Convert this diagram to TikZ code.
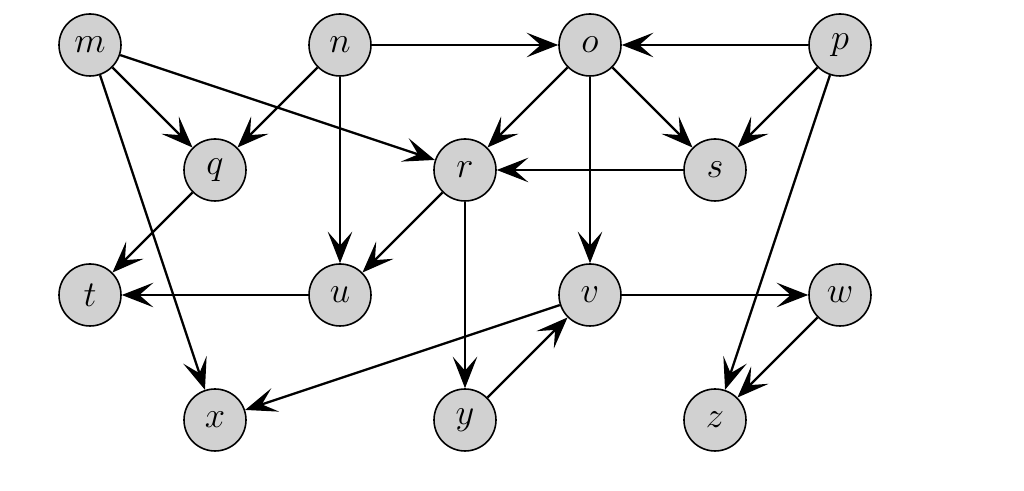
\documentclass[tikz,border=0pt]{standalone}
\usetikzlibrary{arrows.meta}
\tikzset{Graph/.style = {% styles for the graph picture
   vertex/.style = {circle, draw=black, line width=0.9pt, fill=black!18,
                    minimum size=1.24cm, inner sep=0pt,
                    font=\fontsize{21}{25}\selectfont},
    arrow/.style = {line width=1.3pt,
                    -{Stealth[length=18pt, width=14pt, inset=8pt]}},
 thinarrow/.style = {line width=0.75pt,
                    -{Stealth[length=18pt, width=14pt, inset=8pt]}}}
        }

\begin{document}
\begin{tikzpicture}[Graph]
\useasboundingbox (0,0) rectangle (20.48,9.82);

% nodes
\node (m) [vertex] at (1.8,8.92)  {$m$};
\node (n) [vertex] at (6.8,8.92)  {$n$};
\node (o) [vertex] at (11.8,8.92) {$o$};
\node (p) [vertex] at (16.8,8.92) {$p$};
\node (q) [vertex] at (4.3,6.42)  {$q$};
\node (r) [vertex] at (9.3,6.42)  {$r$};
\node (s) [vertex] at (14.3,6.42) {$s$};
\node (t) [vertex] at (1.8,3.92)  {$t$};
\node (u) [vertex] at (6.8,3.92)  {$u$};
\node (v) [vertex] at (11.8,3.92) {$v$};
\node (w) [vertex] at (16.8,3.92) {$w$};
\node (x) [vertex] at (4.3,1.42)  {$x$};
\node (y) [vertex] at (9.3,1.42)  {$y$};
\node (z) [vertex] at (14.3,1.42) {$z$};

% edges
\draw [arrow]     (m) -- (q);
\draw [arrow]     (m) -- (r);
\draw [arrow]     (m) -- (x);
\draw [arrow]     (n) -- (q);
\draw [thinarrow] (n) -- (u);
\draw [thinarrow] (n) -- (o);
\draw [arrow]     (o) -- (r);
\draw [arrow]     (o) -- (s);
\draw [thinarrow] (o) -- (v);
\draw [thinarrow] (p) -- (o);
\draw [arrow]     (p) -- (s);
\draw [arrow]     (p) -- (z);
\draw [arrow]     (q) -- (t);
\draw [arrow]     (r) -- (u);
\draw [thinarrow] (r) -- (y);
\draw [thinarrow] (s) -- (r);
\draw [thinarrow] (u) -- (t);
\draw [thinarrow] (v) -- (w);
\draw [arrow]     (v) -- (x);
\draw [arrow]     (w) -- (z);
\draw [arrow]     (y) -- (v);

\end{tikzpicture}
\end{document}
